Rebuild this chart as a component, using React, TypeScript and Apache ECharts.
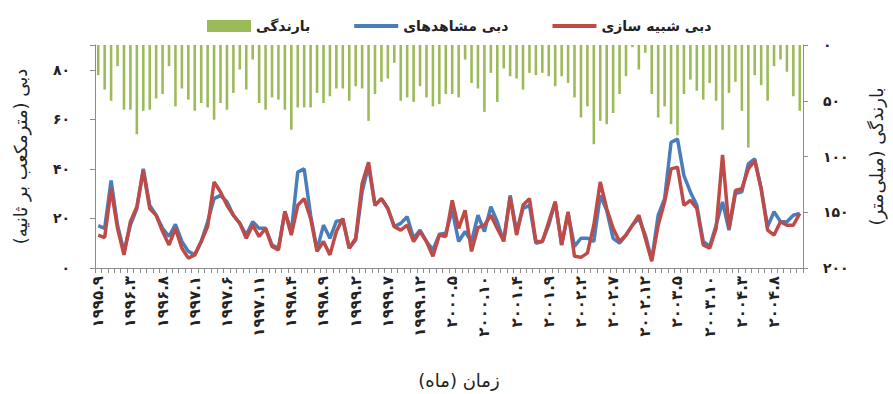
import React, { useEffect, useRef } from "react";
import * as echarts from "echarts";

// Tick labels shown every 5 months on the time axis
const tickLabels = [
  "۱۹۹۵.۹", "۱۹۹۶.۳", "۱۹۹۶.۸", "۱۹۹۷.۱", "۱۹۹۷.۶", "۱۹۹۷.۱۱", "۱۹۹۸.۴", "۱۹۹۸.۹",
  "۱۹۹۹.۲", "۱۹۹۹.۷", "۱۹۹۹.۱۲", "۲۰۰۰.۵", "۲۰۰۰.۱۰", "۲۰۰۱.۴", "۲۰۰۱.۹", "۲۰۰۲.۲",
  "۲۰۰۲.۷", "۲۰۰۲.۱۲", "۲۰۰۳.۵", "۲۰۰۳.۱۰", "۲۰۰۴.۳", "۲۰۰۴.۸",
];

// Monthly rainfall (mm)
const rain = [
  27, 40, 50, 19, 58, 58, 80, 59, 58, 48, 44, 19, 55, 39, 49, 59, 52, 56, 67, 52,
  58, 43, 22, 40, 13, 52, 58, 47, 49, 58, 76, 56, 56, 56, 43, 52, 46, 39, 39, 50,
  37, 39, 68,
  44, 33, 30, 16, 50, 47, 51, 37, 47, 55, 53, 44, 44, 47, 13, 34, 39, 60, 25, 51,
  21, 28, 30, 40, 25, 27, 25, 28, 37, 28, 34, 47, 65, 55, 89, 68, 71, 61, 44,
  28, 2, 22, 7, 44, 65, 55, 71, 81, 44, 31, 41, 49, 34, 50, 76, 43, 33, 59, 92,
  27, 36, 50, 19, 13, 24, 46, 59,
];

// Observed discharge (m3/s)
const observed = [
  17.1, 16.0, 35.3, 17.3, 6.7, 17.3, 24.0, 40.0, 25.3, 21.3, 16.0, 12.7, 17.6, 10.7, 6.7,
  5.3, 10.7, 18.7, 28.0, 29.3, 26.7, 21.3, 18.0, 13.3, 18.7, 16.0, 16.0, 9.3, 8.0, 22.7,
  14.7, 38.7, 40.0, 21.3, 7.3, 17.3, 12.0, 18.9, 19.3, 8.0, 11.3, 30.7, 41.3, 25.3,
  28.0, 24.0, 16.7, 18.0, 20.7, 12.0, 15.3, 10.7, 7.3, 13.6, 14.0, 23.3, 10.7, 14.7, 10.7,
  21.3, 14.7, 24.7, 18.7, 10.7, 29.3, 14.7, 24.0, 25.3, 10.0, 10.7, 17.3, 26.7, 9.3, 22.0,
  8.7, 12.0, 12.0, 10.7, 29.3, 23.3, 12.0,
  10.0, 13.3, 17.3, 20.0, 13.3, 3.3, 21.3, 28.0, 50.7, 52.0, 37.3, 30.7, 25.3, 10.7, 8.7,
  17.3, 26.7, 15.3, 30.0, 30.7, 42.0, 44.0, 32.0, 16.7, 22.7, 18.7, 18.7, 21.3, 22.0,
];

// Simulated discharge (m3/s)
const simulated = [
  13.3, 12.3, 32.0, 16.0, 5.3, 18.7, 24.7, 39.3, 24.0, 21.3, 14.7, 9.3, 16.0, 8.0, 4.0,
  5.3, 10.7, 16.7, 34.7, 30.7, 25.3, 21.3, 18.0, 12.0, 17.3, 12.7, 16.0, 8.7, 7.3, 22.9,
  13.3, 25.3, 28.0, 20.0, 6.7, 10.7, 5.3, 14.7, 20.0, 8.0, 12.0, 34.0, 42.7, 25.3,
  28.0, 24.0, 16.7, 15.3, 17.3, 10.7, 14.7, 10.7, 4.7, 13.3, 12.7, 27.3, 16.0, 23.3, 6.7,
  16.3, 17.3, 21.3, 16.0, 10.9, 28.7, 13.3, 25.3, 28.0, 10.7, 10.7, 18.7, 26.7, 9.3, 22.7,
  4.7, 4.3, 6.0, 17.3, 34.7, 24.0, 16.0,
  10.7, 13.3, 17.3, 21.3, 12.0, 2.7, 17.3, 26.7, 40.0, 40.7, 25.3, 27.3, 24.0, 9.3, 8.0,
  16.0, 45.6, 16.0, 31.3, 32.0, 40.0, 43.3, 32.0, 15.3, 13.3, 18.7, 17.3, 17.3, 22.0,
];

const seriesNames = ["بارندگی", "دبی مشاهدهای", "دبی شبیه سازی"];
const monthsPerTick = 5;

const faDigits = "۰۱۲۳۴۵۶۷۸۹";
const toFa = (v: number | string) =>
  String(v).replace(/[0-9]/g, (d) => faDigits[Number(d)]);

const FONT = "DejaVu Sans";
const BLUE = "#4a7ebb";
const RED = "#be4b48";
const GREEN = "#9bbb59";

export default function App() {
  const ref = useRef<HTMLDivElement>(null);

  useEffect(() => {
    if (!ref.current) return;
    const chart = echarts.init(ref.current, null, { renderer: "svg" });
    const categories = rain.map((_, i) => String(i));
    const axisLineStyle = { color: "#8c8c8c", width: 1 };
    const lineIcon = "path://M0,0H44V4H0Z";

    chart.setOption({
      animation: false,
      textStyle: { fontFamily: FONT },
      legend: {
        top: 14,
        left: 202,
        itemGap: 44,
        itemWidth: 44,
        itemHeight: 12,
        textStyle: { fontFamily: FONT, fontSize: 14, fontWeight: "bold", color: "#222" },
        data: [
          { name: seriesNames[0], icon: "rect", itemStyle: { color: GREEN } },
          { name: seriesNames[1], icon: lineIcon, itemStyle: { color: BLUE } },
          { name: seriesNames[2], icon: lineIcon, itemStyle: { color: RED } },
        ],
      },
      grid: { left: 95, right: 90, top: 45, bottom: 124, containLabel: false },
      xAxis: {
        type: "category",
        data: categories,
        boundaryGap: true,
        name: "زمان (ماه)",
        nameLocation: "middle",
        nameGap: 103,
        nameTextStyle: { fontFamily: FONT, fontSize: 18, color: "#222", padding: [0, 0, 0, 20] },
        axisLine: { lineStyle: axisLineStyle },
        axisTick: { show: true, interval: 0, length: 5, lineStyle: axisLineStyle },
        axisLabel: {
          interval: monthsPerTick - 1,
          rotate: 90,
          margin: 8,
          fontFamily: FONT,
          fontSize: 15,
          fontWeight: "bold",
          color: "#222",
          formatter: (_v: string, idx: number) =>
            idx % monthsPerTick === 0 ? tickLabels[idx / monthsPerTick] ?? "" : "",
        },
        splitLine: { show: false },
      },
      yAxis: [
        {
          type: "value",
          min: 0,
          max: 90,
          interval: 20,
          position: "left",
          name: "دبی (مترمکعب بر ثانیه)",
          nameLocation: "middle",
          nameGap: 66,
          nameTextStyle: { fontFamily: FONT, fontSize: 18, color: "#222" },
          axisLine: { show: true, lineStyle: axisLineStyle },
          axisTick: { show: true, length: 5, lineStyle: axisLineStyle },
          axisLabel: {
            margin: 25,
            fontFamily: FONT,
            fontSize: 14,
            fontWeight: "bold",
            color: "#222",
            formatter: (v: number) => (v > 80 ? "" : toFa(v)),
          },
          splitLine: { show: false },
        },
        {
          type: "value",
          min: 0,
          max: 200,
          interval: 50,
          inverse: true,
          position: "right",
          name: "بارندگی (میلی‌متر)",
          nameLocation: "middle",
          nameGap: 64,
          nameTextStyle: { fontFamily: FONT, fontSize: 18, color: "#222" },
          axisLine: { show: true, lineStyle: axisLineStyle },
          axisTick: { show: true, length: 5, lineStyle: axisLineStyle },
          axisLabel: {
            margin: 20,
            fontFamily: FONT,
            fontSize: 14,
            fontWeight: "bold",
            color: "#222",
            formatter: (v: number) => toFa(v),
          },
          splitLine: { show: false },
        },
      ],
      series: [
        {
          name: seriesNames[0],
          type: "bar",
          yAxisIndex: 1,
          data: rain,
          barWidth: "40%",
          itemStyle: { color: GREEN },
        },
        {
          name: seriesNames[1],
          type: "line",
          yAxisIndex: 0,
          data: observed,
          symbol: "none",
          lineStyle: { color: BLUE, width: 3.5 },
          itemStyle: { color: BLUE },
        },
        {
          name: seriesNames[2],
          type: "line",
          yAxisIndex: 0,
          data: simulated,
          symbol: "none",
          lineStyle: { color: RED, width: 3.5 },
          itemStyle: { color: RED },
        },
      ],
    });

    return () => chart.dispose();
  }, []);

  return (
    <div
      ref={ref}
      style={{ position: "absolute", left: 0, top: 0, width: 893, height: 394, background: "#fff" }}
    />
  );
}
